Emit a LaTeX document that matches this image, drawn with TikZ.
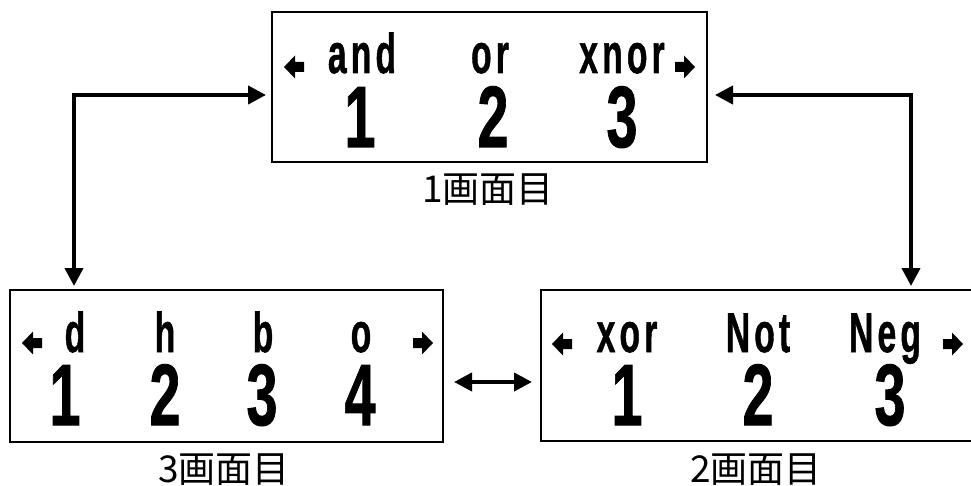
\documentclass[tikz,border=0pt]{standalone}
\usepackage{graphicx}
\usepackage{fontspec}
\setmainfont{Liberation Sans}
\newfontfamily\heavyfont[FakeBold=1.2]{Liberation Sans Bold}
\newfontfamily\jfont{Noto Sans CJK JP}
\usetikzlibrary{arrows.meta,calc}
\newcommand{\cword}[1]{\scalebox{0.6}[1]{\fontsize{56}{56}\heavyfont #1}}
\newcommand{\cdig}[1]{\scalebox{0.64}[1]{\fontsize{87}{87}\heavyfont #1}}
\begin{document}
\begin{tikzpicture}[x=1pt,y=-1pt,
  box/.style={draw, line width=2pt, inner sep=0pt},
  conn/.style={line width=4pt, {Triangle[length=18pt,width=18pt]}-{Triangle[length=18pt,width=18pt]}},
  word/.style={anchor=base, inner sep=0pt},
  digit/.style={anchor=base, inner sep=0pt},
  jlabel/.style={inner sep=0pt, font=\jfont\fontsize{37}{37}\selectfont},
  larr/.pic={\fill (-10,0) -- (1,-11.5) -- (1,-5) -- (10,-5) -- (10,5) -- (1,5) -- (1,11.5) -- cycle;},
  rarr/.pic={\fill (10,0) -- (-1,-11.5) -- (-1,-5) -- (-10,-5) -- (-10,5) -- (-1,5) -- (-1,11.5) -- cycle;}]
\useasboundingbox (0,0) rectangle (971,486);

% boxes
\node[box, minimum width=435pt, minimum height=150pt] (top) at (489.5,87) {};
\node[box, minimum width=433pt, minimum height=152pt] (bl) at (226.5,366) {};
\node[box, minimum width=433pt, minimum height=151pt] (br) at (757.5,365.5) {};

% labels under boxes
\node[jlabel] (ltop) at (488,190) {1画面目};
\node[jlabel] (lbl) at (224,470) {3画面目};
\node[jlabel] (lbr) at (756,470) {2画面目};

% top box content
\pic at (294,67) {larr};
\pic at (685,67) {rarr};
\node[word] (w1) at (362,73) {\cword{a\kern7pt n\kern7pt d}};
\node[word] (w2) at (490,73) {\cword{o\kern7pt r}};
\node[word] (w3) at (622,73) {\cword{x\kern7pt n\kern7pt o\kern7pt r}};
\node[digit] (d1) at (360,147) {\cdig{1}};
\node[digit] (d2) at (493,147) {\cdig{2}};
\node[digit] (d3) at (622,147) {\cdig{3}};

% bottom-left box content
\pic at (32,343) {larr};
\pic at (423,343) {rarr};
\node[word] (b1) at (75,352) {\cword{d}};
\node[word] (b2) at (165,352) {\cword{h}};
\node[word] (b3) at (263,352) {\cword{b}};
\node[word] (b4) at (361,352) {\cword{o}};
\node[digit] (e1) at (65,425) {\cdig{1}};
\node[digit] (e2) at (165,425) {\cdig{2}};
\node[digit] (e3) at (262,425) {\cdig{3}};
\node[digit] (e4) at (360,425) {\cdig{4}};

% bottom-right box content
\pic at (562,344) {larr};
\pic at (953,344) {rarr};
\node[word] (c1) at (627,352) {\cword{x\kern7pt o\kern7pt r}};
\node[word] (c2) at (758,352) {\cword{N\kern7pt o\kern7pt t}};
\node[word] (c3) at (885,352) {\cword{N\kern7pt e\kern7pt g}};
\node[digit] (f1) at (627,425) {\cdig{1}};
\node[digit] (f2) at (758,425) {\cdig{2}};
\node[digit] (f3) at (890,425) {\cdig{3}};

% connectors
\draw[conn] ([xshift=-5pt,yshift=-8pt]top.west) -| ([xshift=65pt,yshift=3pt]bl.north west);
\draw[conn] ([xshift=7pt,yshift=-8pt]top.east) -| ([xshift=371pt,yshift=3pt]br.north west);
\draw[conn] ([xshift=10pt,yshift=-16pt]bl.east) -- ([xshift=-8pt,yshift=-16.5pt]br.west);
\end{tikzpicture}
\end{document}
